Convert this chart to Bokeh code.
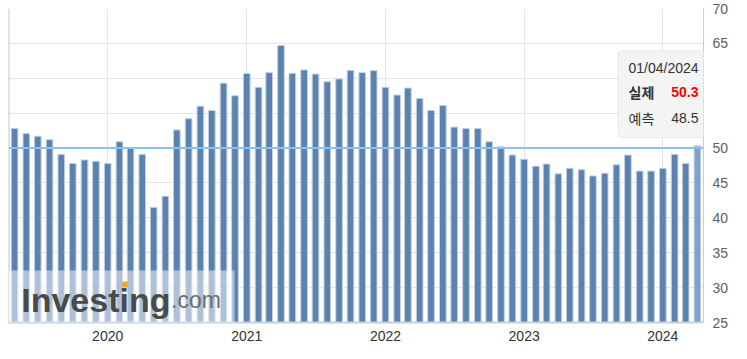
import pandas as pd
from bokeh.plotting import figure
from bokeh.models import (ColumnDataSource, Span, BoxAnnotation, Label, FixedTicker,
                          DatetimeTickFormatter, Range1d)
from bokeh.embed import file_html
from bokeh.resources import INLINE

# ---- data (release month, PMI values) ----
months = list(pd.date_range("2019-05-01", "2024-04-01", freq="MS"))
actual = [52.8, 52.1, 51.7, 51.2, 49.1, 47.8, 48.3, 48.1,
          47.8, 50.9, 50.1, 49.1, 41.5, 43.1, 52.6, 54.2, 56.0, 55.4, 59.3, 57.5,
          60.7, 58.7, 60.8, 64.7, 60.7, 61.2, 60.6, 59.5, 59.9, 61.1, 60.8, 61.1,
          58.7, 57.6, 58.6, 57.1, 55.4, 56.1, 53.0, 52.8, 52.8, 50.9, 50.2, 49.0,
          48.4, 47.4, 47.7, 46.3, 47.1, 46.9, 46.0, 46.4, 47.6, 49.0, 46.7, 46.7,
          47.1, 49.1, 47.8, 50.3]
year_labels = ["2020", "2021", "2022", "2023", "2024"]
y_ticks = [25, 30, 35, 40, 45, 50, 55, 60, 65, 70]
hidden_ticks = [55, 60]          # covered by the tooltip in the reference
ref_level = 50
tip_date = "01/04/2024"
tip_actual_label, tip_actual = "실제", "50.3"
tip_fc_label, tip_fc = "예측", "48.5"

BAR = "#5c82b0"
BAR_HOVER = "#7fa2cc"
colors = [BAR] * (len(actual) - 1) + [BAR_HOVER]
src = ColumnDataSource(dict(x=months, top=actual, color=colors))

x_start = pd.Timestamp("2019-04-15")
x_end = pd.Timestamp("2024-04-17")

p = figure(width=731, height=343, x_axis_type="datetime", y_axis_location="right",
           x_range=Range1d(x_start, x_end), y_range=Range1d(y_ticks[0], y_ticks[-1]),
           output_backend="svg", toolbar_location=None,
           min_border_left=8, min_border_top=8, min_border_right=24, min_border_bottom=19)
p.outline_line_color = None
p.background_fill_color = "white"
p.border_fill_color = "white"

DAY = 86400000
p.vbar(x="x", top="top", bottom=y_ticks[0], width=17.5 * DAY, source=src,
       fill_color="color", line_color="#c3d0e2", line_width=1)

# axes
p.xaxis.ticker = FixedTicker(ticks=[pd.Timestamp(f"{y}-01-01").timestamp() * 1000 for y in year_labels])
p.xaxis.formatter = DatetimeTickFormatter(years="%Y", months="%Y", days="%Y", hours="%Y")
p.yaxis.ticker = FixedTicker(ticks=y_ticks)
p.yaxis.major_label_overrides = {t: "" for t in hidden_ticks}
for ax in (p.xaxis[0], p.yaxis[0]):
    ax.major_tick_line_color = None
    ax.minor_tick_line_color = None
    ax.major_label_text_font = "Liberation Sans"
    ax.major_label_text_font_size = "14px"
p.xaxis.axis_line_color = "#c4cfde"
p.xaxis.axis_line_width = 2
p.xaxis.major_label_text_color = "#333333"
p.xaxis.major_label_standoff = 2
p.yaxis.axis_line_color = "#cccccc"
p.yaxis.major_label_text_color = "#606060"
p.yaxis.major_label_standoff = 3

p.xgrid.grid_line_color = "#e6e6e6"
p.ygrid.grid_line_color = "#e6e6e6"

# left frame edge
p.add_layout(Span(location=x_start, dimension="height", line_color="#c8c8c8", line_width=2))
# reference line at 50
p.add_layout(Span(location=ref_level, dimension="width", line_color="#8dc0ee", line_width=2))

SU = dict(left_units="screen", right_units="screen", top_units="screen", bottom_units="screen")
# watermark
p.add_layout(BoxAnnotation(left=0, right=226, bottom=0, top=52, fill_color="white",
                           fill_alpha=0.5, line_color=None, **SU))
p.add_layout(Label(x=12.7, y=23, x_units="screen", y_units="screen", text="Investing",
                   text_font="Liberation Sans", text_font_style="bold", text_font_size="34px",
                   text_color="#4a4a4a", text_baseline="alphabetic"))
p.add_layout(Label(x=162.5, y=23, x_units="screen", y_units="screen", text=".com",
                   text_font="Liberation Sans", text_font_size="23px",
                   text_color="#6e6e6e", text_baseline="alphabetic"))
p.add_layout(BoxAnnotation(left=113.7, right=119.3, bottom=35, top=41, fill_color="#f5a623",
                           fill_alpha=1, line_color=None, **SU))

# tooltip
p.add_layout(BoxAnnotation(left=609.7, right=697, bottom=185, top=271.7,
                           fill_color="#f4f4f4", fill_alpha=0.97, line_color="#c4c4c4",
                           line_width=1, border_radius=3, **SU))
lab = dict(x_units="screen", y_units="screen", text_font_size="14px", text_baseline="middle")
p.add_layout(Label(x=620, y=254.7, text=tip_date, text_font="Liberation Sans",
                   text_color="#333333", **lab))
p.add_layout(Label(x=620, y=230.7, text=tip_actual_label, text_font="Noto Sans CJK KR",
                   text_font_style="bold", text_color="#333333", **lab))
p.add_layout(Label(x=690, y=230.7, text=tip_actual, text_font="Liberation Sans",
                   text_font_style="bold", text_color="#ff0000", text_align="right", **lab))
p.add_layout(Label(x=620, y=204.7, text=tip_fc_label, text_font="Noto Sans CJK KR",
                   text_color="#333333", **lab))
p.add_layout(Label(x=690, y=204.7, text=tip_fc, text_font="Liberation Sans",
                   text_color="#333333", text_align="right", **lab))

open("out.html", "w").write(file_html(p, INLINE))
